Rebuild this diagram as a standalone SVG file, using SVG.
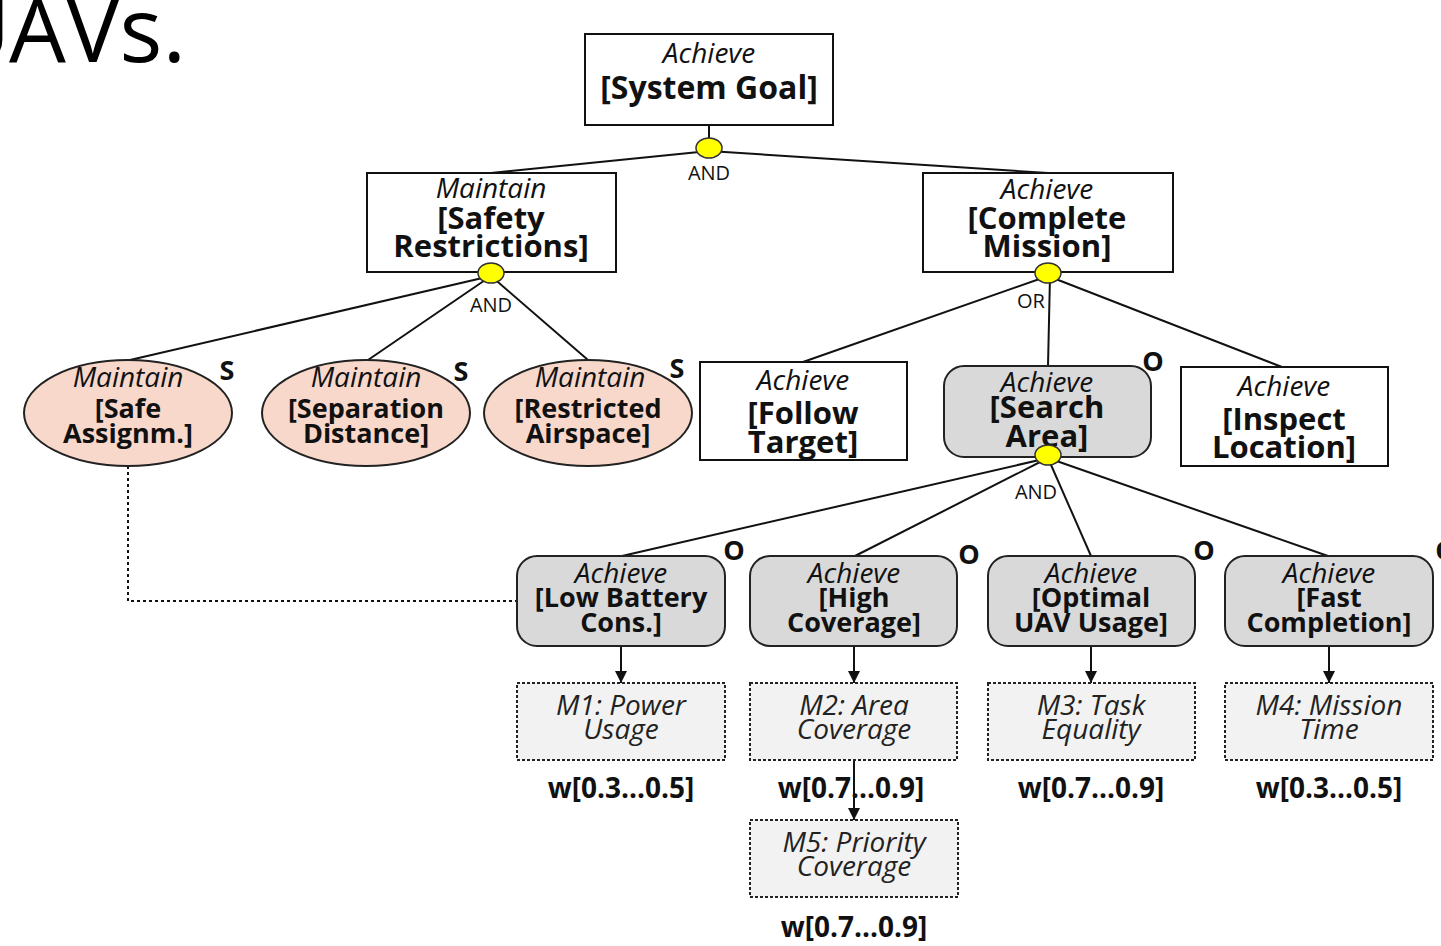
<svg xmlns="http://www.w3.org/2000/svg" width="1441" height="946" viewBox="0 0 1441 946">
<defs>
<style>
.box{fill:#fff;stroke:#111;stroke-width:2}
.soft{fill:#d9d9d9;stroke:#222;stroke-width:2}
.ell{fill:#f8d8cb;stroke:#222;stroke-width:2}
.meas{fill:#f2f2f2;stroke:#222;stroke-width:2;stroke-dasharray:3 2}
.dot{fill:#ffff00;stroke:#333;stroke-width:1.5}
.ln{stroke:#111;stroke-width:2;fill:none}
.dash{stroke:#111;stroke-width:2;fill:none;stroke-dasharray:3 3}
text{font-family:"Open Sans","Liberation Sans",sans-serif;fill:#111;text-anchor:middle}
.it{font-style:italic;font-size:28px}
.b{font-weight:bold;font-size:31px}
.bs{font-weight:bold;font-size:27px}
.mi{font-style:italic;font-size:28px;fill:#222}
.w{font-weight:bold;font-size:28px}
.op{font-size:20px}
.mk{font-weight:bold;font-size:27px}
</style>
<marker id="arr" viewBox="0 0 12 12" refX="12" refY="6" markerWidth="12" markerHeight="12" markerUnits="userSpaceOnUse" orient="auto">
<path d="M0,0 L12,6 L0,12 Z" fill="#111"/>
</marker>
</defs>

<text x="-55 9" y="62" style="font-size:90px;text-anchor:start;fill:#000">UAVs.</text>

<g id="connectors">
<line class="ln" x1="709" y1="125" x2="709" y2="140"/>
<line class="ln" x1="709" y1="151" x2="491" y2="173"/>
<line class="ln" x1="709" y1="151" x2="1048" y2="173"/>
<line class="ln" x1="491" y1="276" x2="130" y2="360"/>
<line class="ln" x1="491" y1="276" x2="368" y2="360"/>
<line class="ln" x1="491" y1="276" x2="588" y2="360"/>
<line class="ln" x1="1048" y1="276" x2="803" y2="362"/>
<line class="ln" x1="1050" y1="276" x2="1048" y2="366"/>
<line class="ln" x1="1048" y1="276" x2="1282" y2="367"/>
<line class="ln" x1="1048" y1="458" x2="622" y2="556"/>
<line class="ln" x1="1048" y1="458" x2="855" y2="556"/>
<line class="ln" x1="1048" y1="458" x2="1091" y2="556"/>
<line class="ln" x1="1048" y1="458" x2="1328" y2="556"/>
<path class="dash" d="M128,466 V601 H517"/>
<line class="ln" x1="621" y1="647" x2="621" y2="683" marker-end="url(#arr)"/>
<line class="ln" x1="854" y1="647" x2="854" y2="683" marker-end="url(#arr)"/>
<line class="ln" x1="1091" y1="647" x2="1091" y2="683" marker-end="url(#arr)"/>
<line class="ln" x1="1329" y1="647" x2="1329" y2="683" marker-end="url(#arr)"/>
<line class="ln" x1="854" y1="760" x2="854" y2="820" marker-end="url(#arr)"/>
<text class="op" x="709" y="180">AND</text>
<text class="op" x="491" y="312">AND</text>
<text class="op" x="1031" y="308">OR</text>
<text class="op" x="1036" y="499">AND</text>
</g>

<g id="system-goal">
<rect class="box" x="585" y="34" width="248" height="91"/>
<text class="it" x="709" y="63">Achieve</text>
<text class="b" x="709" y="99" style="font-size:32px">[System Goal]</text>
<ellipse class="dot" cx="709" cy="148" rx="13" ry="10"/>
</g>

<g id="safety-restrictions">
<rect class="box" x="367" y="173" width="249" height="99"/>
<text class="it" x="491" y="198">Maintain</text>
<text class="b" x="491" y="229">[Safety</text>
<text class="b" x="491" y="257">Restrictions]</text>
<ellipse class="dot" cx="491" cy="273" rx="13" ry="10"/>
</g>

<g id="complete-mission">
<rect class="box" x="923" y="173" width="250" height="99"/>
<text class="it" x="1047" y="199">Achieve</text>
<text class="b" x="1047" y="229">[Complete</text>
<text class="b" x="1047" y="257">Mission]</text>
<ellipse class="dot" cx="1048" cy="273" rx="13" ry="10"/>
</g>

<g id="safe-assignm">
<ellipse class="ell" cx="128" cy="413" rx="104" ry="53"/>
<text class="it" x="128" y="387">Maintain</text>
<text class="bs" x="128" y="418">[Safe</text>
<text class="bs" x="128" y="443">Assignm.]</text>
<text class="mk" x="227" y="380">S</text>
</g>

<g id="separation-distance">
<ellipse class="ell" cx="366" cy="413" rx="104" ry="53"/>
<text class="it" x="366" y="387">Maintain</text>
<text class="bs" x="366" y="418">[Separation</text>
<text class="bs" x="366" y="443">Distance]</text>
<text class="mk" x="461" y="381">S</text>
</g>

<g id="restricted-airspace">
<ellipse class="ell" cx="588" cy="413" rx="104" ry="53"/>
<text class="it" x="590" y="387">Maintain</text>
<text class="bs" x="588" y="418">[Restricted</text>
<text class="bs" x="588" y="443">Airspace]</text>
<text class="mk" x="677" y="378">S</text>
</g>

<g id="follow-target">
<rect class="box" x="700" y="362" width="207" height="98"/>
<text class="it" x="803" y="390">Achieve</text>
<text class="b" x="803" y="424">[Follow</text>
<text class="b" x="803" y="453">Target]</text>
</g>

<g id="search-area">
<rect class="soft" x="944" y="366" width="207" height="91" rx="20"/>
<text class="it" x="1047" y="392">Achieve</text>
<text class="b" x="1047" y="418">[Search</text>
<text class="b" x="1047" y="447">Area]</text>
<text class="mk" x="1153" y="371">O</text>
<ellipse class="dot" cx="1048" cy="455" rx="13" ry="10"/>
</g>

<g id="inspect-location">
<rect class="box" x="1181" y="367" width="207" height="99"/>
<text class="it" x="1284" y="396">Achieve</text>
<text class="b" x="1284" y="430">[Inspect</text>
<text class="b" x="1284" y="458">Location]</text>
</g>

<g id="low-battery">
<rect class="soft" x="517" y="556" width="208" height="90" rx="20"/>
<text class="it" x="621" y="583">Achieve</text>
<text class="bs" x="621" y="607">[Low Battery</text>
<text class="bs" x="621" y="632">Cons.]</text>
<text class="mk" x="734" y="560">O</text>
</g>

<g id="high-coverage">
<rect class="soft" x="750" y="556" width="207" height="90" rx="20"/>
<text class="it" x="854" y="583">Achieve</text>
<text class="bs" x="854" y="607">[High</text>
<text class="bs" x="854" y="632">Coverage]</text>
<text class="mk" x="969" y="564">O</text>
</g>

<g id="optimal-uav-usage">
<rect class="soft" x="988" y="556" width="207" height="90" rx="20"/>
<text class="it" x="1091" y="583">Achieve</text>
<text class="bs" x="1091" y="607">[Optimal</text>
<text class="bs" x="1091" y="632">UAV Usage]</text>
<text class="mk" x="1204" y="560">O</text>
</g>

<g id="fast-completion">
<rect class="soft" x="1225" y="556" width="208" height="90" rx="20"/>
<text class="it" x="1329" y="583">Achieve</text>
<text class="bs" x="1329" y="607">[Fast</text>
<text class="bs" x="1329" y="632">Completion]</text>
<text class="mk" x="1446" y="560">O</text>
</g>

<g id="m1">
<rect class="meas" x="517" y="683" width="208" height="77"/>
<text class="mi" x="621" y="715">M1: Power</text>
<text class="mi" x="621" y="739">Usage</text>
<text class="w" x="621" y="798">w[0.3...0.5]</text>
</g>

<g id="m2">
<rect class="meas" x="750" y="683" width="207" height="77"/>
<text class="mi" x="854" y="715">M2: Area</text>
<text class="mi" x="854" y="739">Coverage</text>
<text class="w" x="851" y="798">w[0.7...0.9]</text>
</g>

<g id="m3">
<rect class="meas" x="988" y="683" width="207" height="77"/>
<text class="mi" x="1091" y="715">M3: Task</text>
<text class="mi" x="1091" y="739">Equality</text>
<text class="w" x="1091" y="798">w[0.7...0.9]</text>
</g>

<g id="m4">
<rect class="meas" x="1225" y="683" width="208" height="77"/>
<text class="mi" x="1329" y="715">M4: Mission</text>
<text class="mi" x="1329" y="739">Time</text>
<text class="w" x="1329" y="798">w[0.3...0.5]</text>
</g>

<g id="m5">
<rect class="meas" x="750" y="820" width="208" height="77"/>
<text class="mi" x="854" y="852">M5: Priority</text>
<text class="mi" x="854" y="876">Coverage</text>
<text class="w" x="854" y="937">w[0.7...0.9]</text>
</g>
</svg>
